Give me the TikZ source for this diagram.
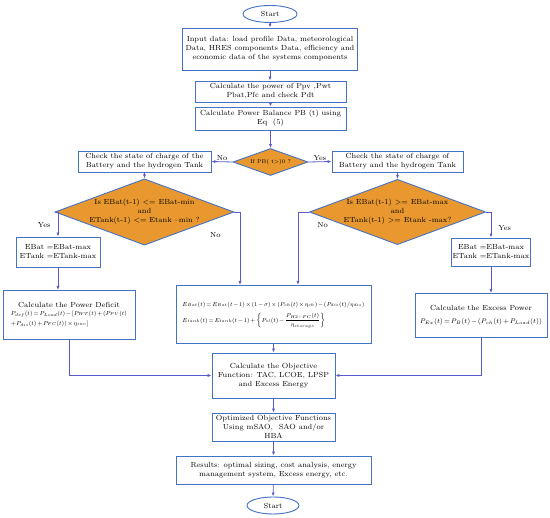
\documentclass[tikz,border=0pt]{standalone}
\usepackage{amsmath}
\usepackage{graphicx}
\usetikzlibrary{shapes.geometric,arrows.meta,calc}
\definecolor{boxblue}{HTML}{4472C4}
\definecolor{linkblue}{HTML}{5A5AC8}
\definecolor{dorange}{HTML}{E8982E}
\newcommand{\tightmath}{\thinmuskip=1.5mu\medmuskip=2mu plus 1mu\thickmuskip=2.5mu plus 1mu}
\tikzset{
  every node/.style={font=\fontsize{7.4}{9}\selectfont, inner sep=1pt},
  box/.style={draw=boxblue, line width=0.9pt, fill=white, align=center, minimum width=#1},
  term/.style={ellipse, draw=boxblue, line width=0.9pt, fill=white},
  dec/.style={diamond, draw=boxblue, line width=0.9pt, fill=dorange, align=center, aspect=2.7, inner sep=0pt},
  link/.style={draw=linkblue, line width=0.8pt, -{Latex[length=4pt,width=3.2pt]}},
  lab/.style={font=\fontsize{7.4}{9}\selectfont}
}
\begin{document}
\begin{tikzpicture}[x=1pt,y=-1pt]
\useasboundingbox (0,0) rectangle (550,518);
\node[term, minimum width=54, minimum height=17] (start) at (270,14) {Start};
\node[box=175, minimum height=42] (input) at (270,49) {Input data: load profile Data, meteorological\\Data, HRES components Data, efficiency and\\economic data of the systems components};
\node[box=151, minimum height=21] (calc) at (270.5,91.5) {Calculate the power of Ppv ,Pwt\\Pbat,Pfc and check Pdt};
\node[box=151, minimum height=23] (pb) at (270.5,118.5) {Calculate Power Balance PB (t) using\\Eq\ \ (5)};
\node[dec, minimum width=75, minimum height=27, font=\fontsize{5.5}{7}\selectfont] (dpb) at (270.5,162) {If PB( t>)0 ?};
\node[box=133, minimum height=21] (chkL) at (144.5,161.5) {Check the state of charge of the\\Battery and the hydrogen Tank};
\node[box=131, minimum height=21] (chkR) at (397.5,161.5) {Check the state of charge of\\Battery and the hydrogen Tank};
\node[dec, minimum width=160, minimum height=58] (dL) at (144.5,212) {Is EBat(t-1) <= EBat-min\\and\\ETank(t-1) <= Etank --min ?};
\node[dec, minimum width=167, minimum height=58] (dR) at (397.5,212) {Is EBat(t-1) >= EBat-max\\and\\ETank(t-1) >= Etank -max?};
\node[box=84, minimum height=30] (ebL) at (58,252) {EBat =EBat-max\\ETank =ETank-max};
\node[box=76, minimum height=28] (ebR) at (491,252) {EBat =EBat-max\\ETank =ETank-max};
\node[box=132, minimum height=49, anchor=north] (def) at (69,290) {Calculate the Power Deficit\\[1pt]
  \resizebox{116pt}{!}{\tightmath\begin{tabular}{@{}l@{}}
  $P_{def}(t)=P_{Load}(t)-[P_{WT}(t)+(P_{PV}(t)$\\[3pt]
  $+P_{dis}(t)+P_{FC}(t))\times\eta_{inv}]$
  \end{tabular}}};
\node[box=195, minimum height=58, anchor=north] (mid) at (273.5,285) {\resizebox{182pt}{!}{\tightmath\begin{tabular}{@{}l@{}}
  $E_{Bat}(t)=E_{Bat}(t-1)\times(1-\sigma)\times(P_{ch}(t)\times\eta_{ch})-(P_{dis}(t)/\eta_{dis})$\\[6pt]
  $E_{tank}(t)=E_{tank}(t-1)+\left\{P_{el}(t)-\dfrac{P_{H2-FC}(t)}{\eta_{storage}}\right\}$
  \end{tabular}}};
\node[box=132, minimum height=44, anchor=north] (exc) at (481,293) {Calculate the Excess Power\\[4pt]
  \resizebox{122pt}{!}{\tightmath$P_{Ex}(t)=P_{B}(t)-\left(P_{ch}(t)+P_{Load}(t)\right)$}};
\node[box=123, minimum height=45] (obj) at (273.5,375.5) {Calculate the Objective\\Function: TAC, LCOE, LPSP\\and Excess Energy};
\node[box=123, minimum height=28] (opt) at (273.5,427) {Optimized Objective Functions\\Using mSAO,\ \ SAO and/or\\HBA};
\node[box=195, minimum height=28] (res) at (273.5,470) {Results: optimal sizing, cost analysis, energy\\management system, Excess energy, etc.};
\node[term, minimum width=52, minimum height=17] (end) at (273,505.5) {Start};

\draw[link] (start) -- (input);
\draw[link] (input) -- (input.south |- calc.north);
\draw[link] (calc) -- (calc.south |- pb.north);
\draw[link] (pb) -- (pb.south |- dpb.north);
\draw[link] (dpb.west) -- (chkL.east) node[lab, midway, above] {No};
\draw[link] (dpb.east) -- (chkR.west) node[lab, midway, above] {Yes};
\draw[link] (chkL) -- (dL);
\draw[link] (chkR) -- (dR);
\draw[link] (dL.west) -| (ebL.north) node[lab, pos=0.76, left=6pt] {Yes};
\draw[link] (dR.east) -| (ebR.north) node[lab, pos=0.81, right=6pt] {Yes};
\draw[link] (dL.east) -| ([xshift=-33.5]mid.north) node[lab, pos=0.66, left=18pt] {No};
\draw[link] (dR.west) -| ([xshift=24.5]mid.north) node[lab, pos=0.59, right=18pt] {No};
\draw[link] (ebL) -- (ebL.south |- def.north);
\draw[link] (ebR) -- (ebR.south |- exc.north);
\draw[link] (mid) -- (mid.south |- obj.north);
\draw[link] (def.south) |- (obj.west);
\draw[link] (exc.south) |- (obj.east);
\draw[link] (obj) -- (obj.south |- opt.north);
\draw[link] (opt) -- (opt.south |- res.north);
\draw[link] (res) -- (end);
\end{tikzpicture}
\end{document}
